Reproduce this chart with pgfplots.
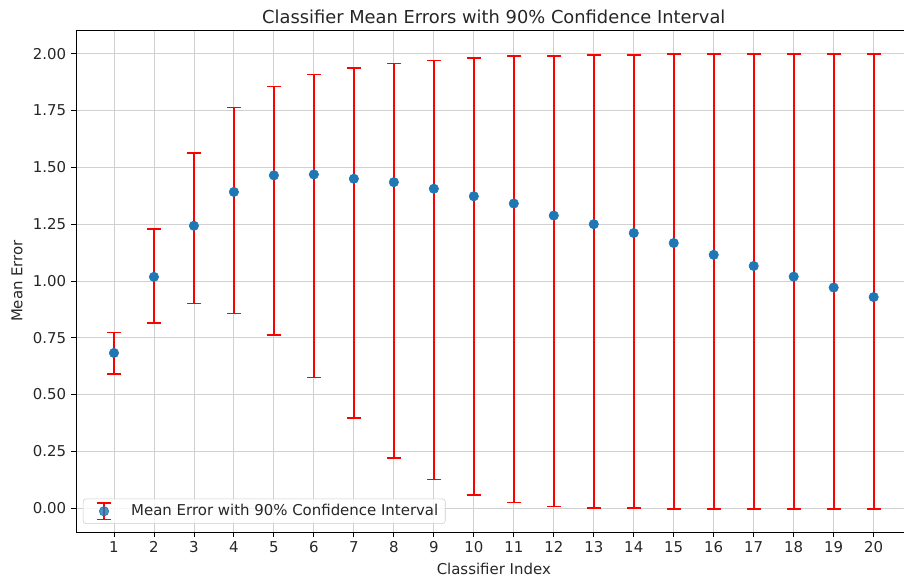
\documentclass[border=0pt]{standalone}
\usepackage{pgfplots}
\usepackage{pgfplotstable}
\pgfplotsset{compat=1.18}
\usepackage{fontspec}
\setmainfont{DejaVu Sans}
\definecolor{mplblue}{HTML}{1F77B4}
\definecolor{gridgray}{HTML}{D0D0D0}
\definecolor{txt}{HTML}{262626}
\definecolor{barred}{RGB}{255,0,0}

% mean errors
\pgfplotstableread{
x y
1 0.683
2 1.018
3 1.243
4 1.392
5 1.465
6 1.469
7 1.450
8 1.435
9 1.406
10 1.373
11 1.341
12 1.288
13 1.250
14 1.211
15 1.167
16 1.115
17 1.066
18 1.019
19 0.971
20 0.929
}\meandata

% 90% confidence interval ends (lower, upper), one segment per classifier
\pgfplotstableread{
x v
1 0.590
1 0.774
nan nan
2 0.814
2 1.229
nan nan
3 0.900
3 1.564
nan nan
4 0.857
4 1.764
nan nan
5 0.761
5 1.856
nan nan
6 0.575
6 1.910
nan nan
7 0.397
7 1.937
nan nan
8 0.221
8 1.957
nan nan
9 0.126
9 1.971
nan nan
10 0.058
10 1.981
nan nan
11 0.025
11 1.990
nan nan
12 0.006
12 1.990
nan nan
13 0.000
13 1.996
nan nan
14 0.000
14 1.996
nan nan
15 -0.004
15 2.000
nan nan
16 -0.004
16 2.000
nan nan
17 -0.004
17 2.000
nan nan
18 -0.004
18 2.000
nan nan
19 -0.004
19 2.000
nan nan
20 -0.004
20 2.000
}\cidata

\begin{document}
\begin{tikzpicture}
\begin{axis}[
  name=ax,
  scale only axis,
  width=601.7bp, height=361.4bp,
  xmin=0.05, xmax=20.95,
  ymin=-0.105, ymax=2.105,
  xtick={1,...,20},
  ytick={0,0.25,0.5,0.75,1,1.25,1.5,1.75,2},
  yticklabel style={/pgf/number format/.cd, fixed, fixed zerofill, precision=2},
  /pgf/number format/assume math mode=true,
  ticklabel style={font=\fontsize{10.8}{13}\selectfont, text=txt},
  tick align=outside,
  tick pos=left,
  major tick length=3.5bp,
  tick style={black, line width=0.6bp},
  axis line style={black, line width=0.6bp},
  grid=major,
  major grid style={gridgray, line width=0.6bp},
  unbounded coords=jump,
  title={Classifier Mean Errors with 90\% Confidence Interval},
  title style={font=\fontsize{12.9}{15}\selectfont, text=txt, at={(0.5,1)}, anchor=base, yshift=-1.3bp},
  xlabel={Classifier Index},
  ylabel={Mean Error},
  label style={font=\fontsize{10.8}{13}\selectfont, text=txt},
  xlabel style={at={(0.5,0)}, anchor=base, yshift=-30.5bp},
  ylabel style={at={(0,0.5)}, anchor=base, yshift=38.6bp},
  legend style={at={(0,0)}, anchor=south west, xshift=5bp, yshift=5.8bp,
    draw=black!20, rounded corners=2bp, fill=white, fill opacity=0.8, text opacity=1,
    font=\fontsize{10.8}{13}\selectfont, text=txt, inner xsep=3.5bp, inner ysep=2bp,
    nodes={inner sep=1.5bp}},
  legend cell align=left,
]
\addplot[
  barred,
  line width=1.4bp,
  mark=-,
  mark size=5bp,
  mark options={barred, line width=1.1bp},
  forget plot,
] table[x=x, y=v] {\cidata};
\addplot[
  only marks,
  mark=*,
  mark size=3.4bp,
  mark options={fill=mplblue, draw=mplblue, line width=0.4bp},
  legend image code/.code={
    \path[draw=none,fill=none] (0bp,0bp) -- (29.6bp,0bp);
    \draw[barred, line width=1.6bp] (11.5bp,-6.1bp) -- (11.5bp,6.1bp);
    \draw[barred, line width=1.1bp] (6.5bp,-6.1bp) -- (16.5bp,-6.1bp);
    \draw[barred, line width=1.1bp] (6.5bp,6.1bp) -- (16.5bp,6.1bp);
    \fill[mplblue] (11.5bp,0bp) circle (3.4bp);
  },
] table[x=x, y=y] {\meandata};
\addlegendentry{Mean Error with 90\% Confidence Interval}
\end{axis}
\pgfresetboundingbox
\useasboundingbox ([xshift=-54.7bp,yshift=-33.8bp]ax.south west) rectangle ([xshift=-5.5bp,yshift=21.6bp]ax.north east);
\end{tikzpicture}
\end{document}
